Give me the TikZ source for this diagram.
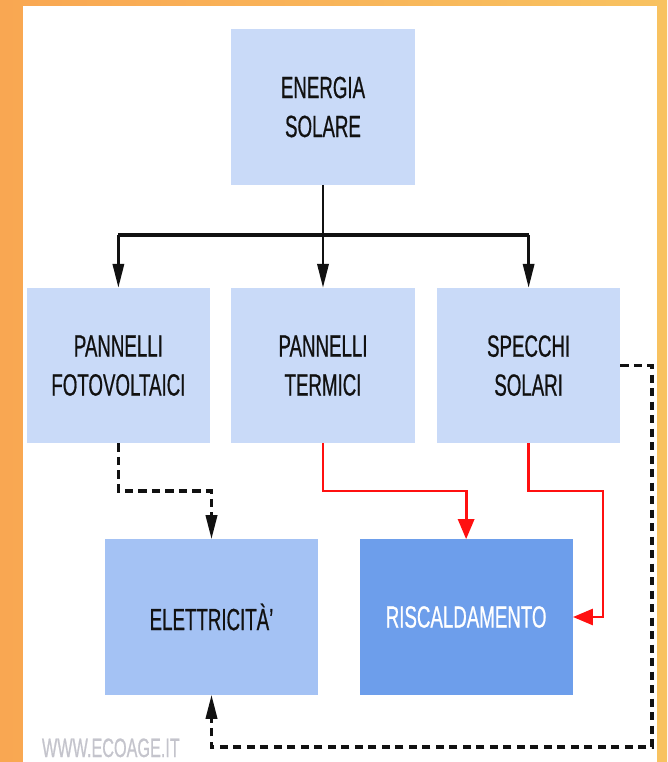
\documentclass[tikz,border=0pt]{standalone}
\usepackage{fontspec}
\setmainfont{Liberation Sans}[FakeStretch=0.61,FakeBold=0.6]
\usetikzlibrary{positioning,arrows.meta}
\definecolor{pale}{HTML}{c9daf8}
\definecolor{elec}{HTML}{a4c2f4}
\definecolor{heat}{HTML}{6d9eeb}
\definecolor{ink}{HTML}{111111}
\definecolor{hotred}{HTML}{ff1010}
\definecolor{orl}{HTML}{f9a752}
\definecolor{orr}{HTML}{f8c260}
\definecolor{wm}{HTML}{c4c4cc}
\newcommand\boxfont{\fontsize{21.8pt}{27.7pt}\selectfont}
\tikzset{
  blk/.style={fill=pale,minimum width=4.575cm,minimum height=3.875cm,inner sep=0pt,align=center,font=\boxfont,text=ink},
  elc/.style={blk,fill=elec,minimum width=5.325cm},
  hot/.style={elc,fill=heat,text=white},
  arr/.style={-{Triangle[length=6mm,width=2.8mm]},line width=2pt,draw=ink},
  dsh/.style={arr,dash pattern=on 6pt off 3.6pt,line width=2.2pt},
  rarr/.style={-{Triangle[length=5mm,width=4mm]},line width=2pt,draw=hotred},
}
\begin{document}
\begin{tikzpicture}[x=0.025cm,y=-0.025cm]
\useasboundingbox (0,0) rectangle (667,762);
% frame
\fill[left color=orl,right color=orr] (0,0) rectangle (667,762);
\fill[white] (23,6) rectangle (657,762);
% boxes
\node[blk] (es) at (323,107) {ENERGIA\\SOLARE};
\node[blk,below=2.575cm of es] (pt) {PANNELLI\\TERMICI};
\node[blk,left=0.525cm of pt] (pf) {PANNELLI\\FOTOVOLTAICI};
\node[blk,right=0.55cm of pt] (ss) {SPECCHI\\SOLARI};
\node[elc] (el) at (211.5,617) {ELETTRICIT\`A'};
\node[hot,right=1.025cm of el] (ri) {RISCALDAMENTO};
\node[font=\fontsize{18.9pt}{22pt}\selectfont,text=wm,anchor=base west] (web) at (37,757) {WWW.ECOAGE.IT};
% connectors
\coordinate (bus) at (323,235);
\coordinate (mid) at (323,491);
\coordinate (rr) at (603,491);
\coordinate (cr) at (652,747);
\draw[line width=2pt,draw=ink] (es.south) -- (bus);
\draw[line width=2.8pt,draw=ink] (pf.north |- bus) -- (ss.north |- bus);
\draw[arr] (pf.north |- bus) -- (pf.north);
\draw[arr] (bus) -- (pt.north);
\draw[arr] (ss.north |- bus) -- (ss.north);
\draw[dsh] (pf.south) -- (pf.south |- mid) -| (el.north);
\draw[rarr] (pt.south) -- (mid) -| (ri.north);
\draw[rarr] (ss.south) -- (ss.south |- rr) -- (rr) |- (ri.east);
\draw[dsh] (ss.east) -| (cr) -| (el.south);
\end{tikzpicture}
\end{document}
